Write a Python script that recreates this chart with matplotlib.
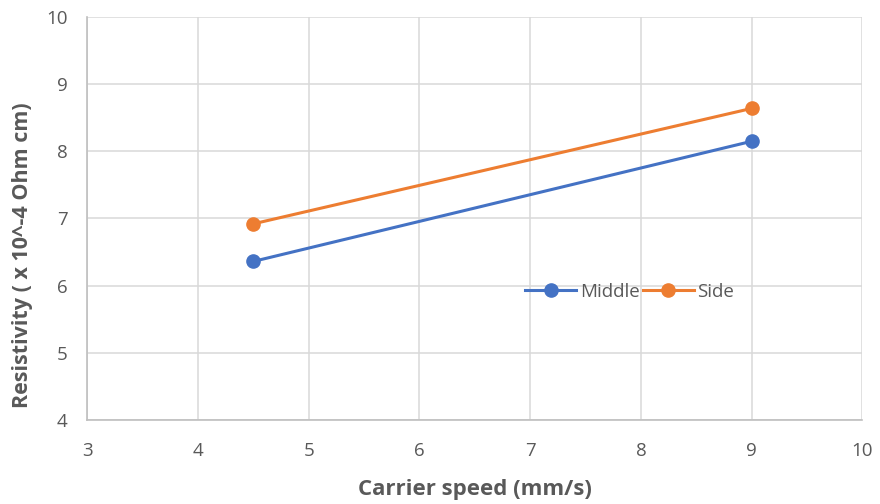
import matplotlib.pyplot as plt

# data
speed = [4.5, 9]
middle = [6.36, 8.15]
side = [6.92, 8.64]
x_ticks = [3, 4, 5, 6, 7, 8, 9, 10]
y_ticks = [4, 5, 6, 7, 8, 9, 10]

plt.rcParams['font.family'] = ['Open Sans', 'DejaVu Sans']

fig = plt.figure(figsize=(8.8, 5.04), dpi=100)
ax = fig.add_axes([0.099, 0.167, 0.881, 0.799])

ax.plot(speed, middle, color='#4472C4', lw=2.2, marker='o', ms=9.5, label='Middle', zorder=3)
ax.plot(speed, side, color='#ED7D31', lw=2.2, marker='o', ms=9.5, label='Side', zorder=3)

ax.set_xlim(3, 10)
ax.set_ylim(4, 10)
ax.set_xticks(x_ticks)
ax.set_yticks(y_ticks)
ax.grid(True, color='#d9d9d9', lw=1.1)
ax.set_axisbelow(True)
for s in ['top', 'right']:
    ax.spines[s].set_visible(False)
for s in ['left', 'bottom']:
    ax.spines[s].set_color('#bfbfbf')
    ax.spines[s].set_linewidth(1.2)
ax.tick_params(axis='x', pad=16)
ax.tick_params(axis='y', pad=14)
ax.tick_params(length=0, labelsize=13.5, labelcolor='#595959')

ax.set_xlabel('Carrier speed (mm/s)', fontsize=16, fontweight='bold', color='#595959', labelpad=14)
ax.set_ylabel('Resistivity ( x 10^-4 Ohm cm)', fontsize=15.5, fontweight='bold', color='#595959')
ax.yaxis.set_label_coords(-0.07, 0.41)

leg = ax.legend(loc='center', bbox_to_anchor=(0.7, 0.318), ncol=2, frameon=False,
                fontsize=13.5, handlelength=2.7, columnspacing=0.2, handletextpad=0.2)
for t in leg.get_texts():
    t.set_color('#595959')

fig.savefig('out.png', dpi=100)
